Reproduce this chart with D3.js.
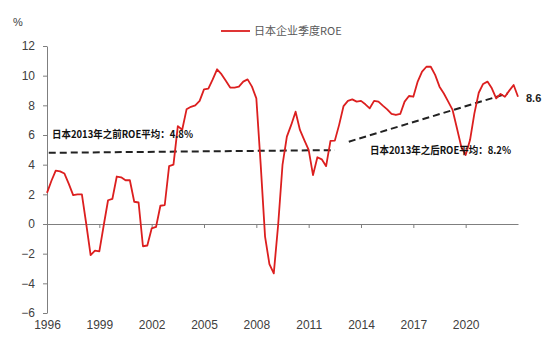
<!DOCTYPE html>
<html lang="zh">
<head>
<meta charset="UTF-8">
<title>日本企业季度ROE</title>
<script src="https://d3js.org/d3.v7.min.js"></script>
<style>
  body { margin: 0; background: #fff; }
  svg text { font-family: "Liberation Sans", Arial, sans-serif; }
  .cn { font-family: "Noto Sans CJK SC", sans-serif; }
</style>
</head>
<body>
<div id="chart"></div>
<script>
// 季度数据，1996Q1 起
const startYear = 1996;
const roe = [
  2.1, 2.9, 3.6, 3.55, 3.4, 2.7, 1.95, 2.0, 2.0, 0.0,
  -2.1, -1.8, -1.85, -0.1, 1.6, 1.7, 3.2, 3.15, 2.95, 2.95,
  1.5, 1.45, -1.5, -1.45, -0.3, -0.2, 1.23, 1.28, 3.9, 4.0,
  6.6, 6.35, 7.73, 7.9, 8.0, 8.3, 9.08, 9.12, 9.75, 10.43,
  10.1, 9.66, 9.2, 9.2, 9.26, 9.6, 9.75, 9.26, 8.47, 4.0,
  -0.85, -2.7, -3.33, -0.07, 3.98, 5.89, 6.68, 7.57, 6.34, 5.66,
  5.0, 3.3, 4.5, 4.36, 3.9, 5.6, 5.62, 6.7, 7.95, 8.3,
  8.4, 8.25, 8.3, 8.07, 7.8, 8.3, 8.25, 7.98, 7.73, 7.42,
  7.35, 7.42, 8.25, 8.63, 8.58, 9.6, 10.27, 10.6, 10.6, 10.05,
  9.26, 8.8, 8.25, 7.69, 6.45, 5.2, 4.65, 5.66, 7.46, 8.85,
  9.44, 9.6, 9.15, 8.47, 8.77, 8.58, 8.99, 9.37, 8.58
];
const yTicks = [-6, -4, -2, 0, 2, 4, 6, 8, 10, 12];
const xTicks = [1996, 1999, 2002, 2005, 2008, 2011, 2014, 2017, 2020];
// 平均线 [年份, 值]
const avgBefore = [[1996.1, 4.8], [2012.5, 4.98]];
const avgAfter = [[2013.3, 5.55], [2022.4, 8.8]];

const width = 554, height = 351;
const svg = d3.select("#chart").append("svg")
  .attr("width", width)
  .attr("height", height);

const x = d3.scaleLinear().domain([1996, 2023]).range([47, 518]);
const y = d3.scaleLinear().domain([-6, 12]).range([313, 46]);

// y 轴
const yAxis = svg.append("g")
  .attr("transform", "translate(47,0)")
  .call(d3.axisLeft(y).tickValues(yTicks).tickSize(4).tickSizeOuter(0).tickPadding(8));
yAxis.select(".domain").attr("stroke", "#7f7f7f");
yAxis.selectAll(".tick line").attr("stroke", "#7f7f7f");
yAxis.selectAll("text").attr("font-size", 12).attr("fill", "#404040")
  .attr("font-family", "Liberation Sans, Arial, sans-serif");

// x 轴（位于0线）
const xAxis = svg.append("g")
  .attr("transform", `translate(0,${y(0)})`)
  .call(d3.axisBottom(x).tickValues(xTicks).tickSize(4).tickSizeOuter(0).tickFormat(d3.format("d")));
xAxis.select(".domain").attr("stroke", "#7f7f7f");
xAxis.selectAll(".tick line").attr("stroke", "#7f7f7f");
xAxis.selectAll("text")
  .attr("y", 325 - y(0))
  .attr("dy", "0.35em")
  .attr("font-size", 12)
  .attr("fill", "#404040")
  .attr("font-family", "Liberation Sans, Arial, sans-serif");

// 单位
svg.append("text")
  .attr("x", 13).attr("y", 26)
  .attr("font-size", 11).attr("fill", "#404040")
  .text("%");

// 平均线
const avgLine = d3.line().x(d => x(d[0])).y(d => y(d[1]));
[avgBefore, avgAfter].forEach(seg => {
  svg.append("path")
    .attr("d", avgLine(seg))
    .attr("fill", "none")
    .attr("stroke", "#222")
    .attr("stroke-width", 2)
    .attr("stroke-dasharray", "7,4");
});

// ROE 曲线
const line = d3.line()
  .x((d, i) => x(startYear + i / 4))
  .y(d => y(d));
svg.append("path")
  .datum(roe)
  .attr("d", line)
  .attr("fill", "none")
  .attr("stroke", "#dc1f1f")
  .attr("stroke-width", 1.8)
  .attr("stroke-linejoin", "round");

// 图例
svg.append("line")
  .attr("x1", 221).attr("x2", 250)
  .attr("y1", 31).attr("y2", 31)
  .attr("stroke", "#dc1f1f").attr("stroke-width", 1.8);
svg.append("text")
  .attr("class", "cn")
  .attr("x", 254).attr("y", 35)
  .attr("font-size", 11).attr("fill", "#595959")
  .text("日本企业季度ROE");

// 标注
svg.append("text")
  .attr("class", "cn")
  .attr("x", 52).attr("y", 138)
  .attr("font-size", 10.5).attr("font-weight", "bold").attr("fill", "#111")
  .attr("textLength", 141).attr("lengthAdjust", "spacingAndGlyphs")
  .text("日本2013年之前ROE平均：4.8%");
svg.append("text")
  .attr("class", "cn")
  .attr("x", 370).attr("y", 154)
  .attr("font-size", 10.5).attr("font-weight", "bold").attr("fill", "#111")
  .attr("textLength", 141).attr("lengthAdjust", "spacingAndGlyphs")
  .text("日本2013年之后ROE平均：8.2%");
svg.append("text")
  .attr("x", 526).attr("y", 102)
  .attr("font-size", 11).attr("font-weight", "bold").attr("fill", "#222")
  .text(d3.format(".1f")(roe[roe.length - 1]));
</script>
</body>
</html>
